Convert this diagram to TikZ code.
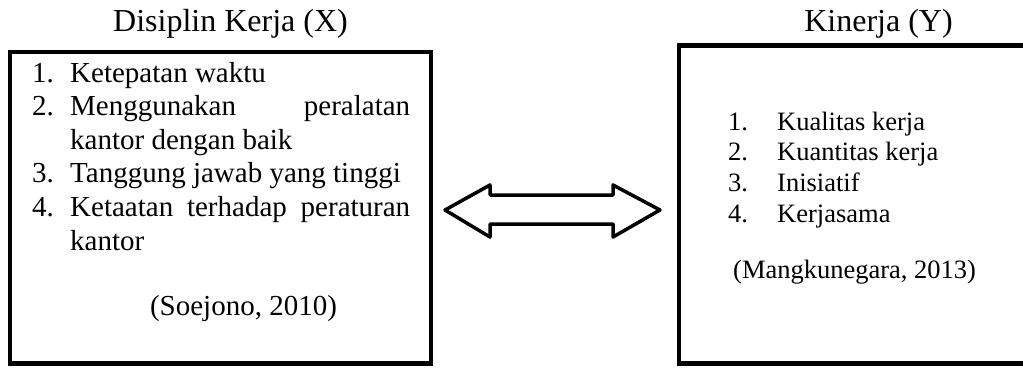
\documentclass[tikz,border=0pt]{standalone}
\usepackage{fontspec}
\setmainfont{Liberation Serif}
\begin{document}
\begin{tikzpicture}[x=1pt,y=-1pt,
  boxline/.style={line width=4.5pt},
  arrowline/.style={line width=3.5pt,line join=round},
  title/.style={anchor=base,inner sep=0pt,font=\fontsize{32}{36}\selectfont},
  lefttext/.style={anchor=base west,inner sep=0pt,font=\fontsize{29}{33.6}\selectfont},
  righttext/.style={anchor=base west,inner sep=0pt,font=\fontsize{26.5}{30.7}\selectfont}]
\useasboundingbox (0,0) rectangle (1023,367);
% titles
\node[title] (tx) at (230.5,31) {Disiplin Kerja (X)};
\node[title] (ty) at (878.5,31) {Kinerja (Y)};
% left box
\draw[boxline] (10,52) rectangle (431,363.5);
\node[lefttext] (llist) at (32,82) {%
  \renewcommand\arraystretch{1}%
  \begin{tabular}[t]{@{}l@{}l@{}}
  \makebox[38pt][l]{1.} & Ketepatan waktu\\
  \makebox[38pt][l]{2.} & \hbox to 340pt{Menggunakan\hfill peralatan}\\
  & kantor dengan baik\\
  \makebox[38pt][l]{3.} & Tanggung jawab yang tinggi\\
  \makebox[38pt][l]{4.} & \hbox to 340pt{Ketaatan\hfill terhadap\hfill peraturan}\\
  & kantor
  \end{tabular}};
\node[lefttext,anchor=base] (lsrc) at (243.5,315) {(Soejono, 2010)};
% right box (right side cut off)
\draw[boxline] (1030,45.5) -- (679,45.5) -- (679,363.5) -- (1030,363.5);
\node[righttext] (rlist) at (728,130) {%
  \renewcommand\arraystretch{1}%
  \begin{tabular}[t]{@{}l@{}l@{}}
  \makebox[49pt][l]{1.} & Kualitas kerja\\
  \makebox[49pt][l]{2.} & Kuantitas kerja\\
  \makebox[49pt][l]{3.} & Inisiatif\\
  \makebox[49pt][l]{4.} & Kerjasama
  \end{tabular}};
\node[righttext] (rsrc) at (733,278) {(Mangkunegara, 2013)};
% double arrow
\draw[arrowline] (445,210) -- (490,185) -- (490,195) -- (613,195) -- (613,185)
  -- (660,210) -- (613,237) -- (613,224) -- (490,224) -- (490,237) -- cycle;
\end{tikzpicture}
\end{document}
